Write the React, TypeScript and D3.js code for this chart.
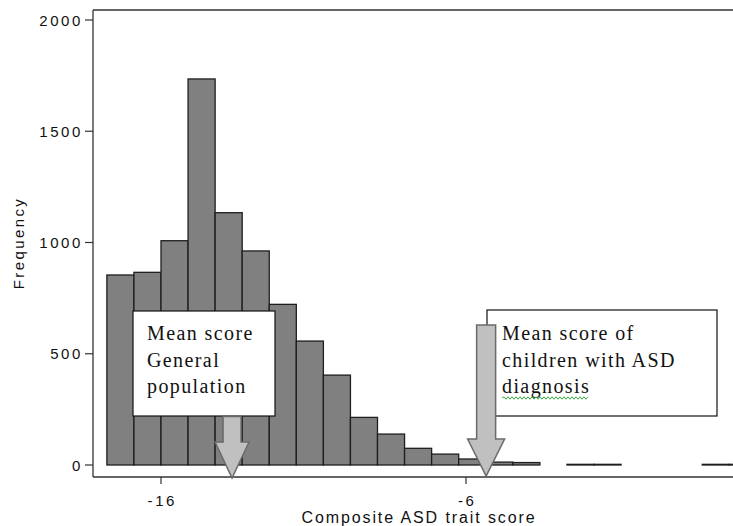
import React from "react";
import * as d3 from "d3";

// ---- data ----
const binStart = -17.7746;
const binWidth = 0.8873;
const counts = [854, 866, 1008, 1735, 1134, 962, 722, 557, 404, 214, 139, 75, 49, 27, 13, 11, 0, 3, 3, 0, 0, 0, 3, 3];
const xTicks = [-16, -6];
const yTicks = [0, 500, 1000, 1500, 2000];
const generalMean = -13.67;
const asdMean = -5.34;
const box1Lines = ["Mean score", "General", "population"];
const box2Lines = ["Mean score of", "children with ASD", "diagnosis"];
const xTitle = "Composite ASD trait score";
const yTitle = "Frequency";

const W = 733;
const H = 526;

export default function App() {
  const x = d3.scaleLinear().domain([-16, -6]).range([161, 466]);
  const y = d3.scaleLinear().domain([0, 2000]).range([465, 20]);

  const bins = counts.map((c, i) => ({
    x0: binStart + i * binWidth,
    x1: binStart + (i + 1) * binWidth,
    c,
  }));

  const axisLeft = 93;
  const axisTop = 10;
  const axisBottom = 477;

  const arrow = (tipX: number, tipY: number, shaftTop: number, headTop: number, shaftHalf: number, headHalf: number) => {
    const p = d3.path();
    p.moveTo(tipX - shaftHalf, shaftTop);
    p.lineTo(tipX + shaftHalf, shaftTop);
    p.lineTo(tipX + shaftHalf, headTop);
    p.lineTo(tipX + headHalf, headTop);
    p.lineTo(tipX, tipY);
    p.lineTo(tipX - headHalf, headTop);
    p.lineTo(tipX - shaftHalf, headTop);
    p.closePath();
    return p.toString();
  };

  // spell-check squiggle
  const squiggle = d3.path();
  {
    const sx = 502, ex = 589, sy = 398;
    squiggle.moveTo(sx, sy);
    let k = 0;
    for (let xx = sx + 2; xx <= ex; xx += 2) {
      squiggle.lineTo(xx, sy + (k % 2 === 0 ? -1.2 : 1.2));
      k++;
    }
  }

  const serif = "'Liberation Serif', 'Times New Roman', serif";
  const sans = "'Liberation Sans', Arial, sans-serif";

  const ax1 = x(generalMean);
  const ax2 = x(asdMean);

  return (
    <svg width={W} height={H} style={{ position: "absolute", left: 0, top: 0, background: "#fff" }}>
      <rect x={0} y={0} width={W} height={H} fill="#fff" />
      {/* bars */}
      {bins.map((b, i) =>
        b.c > 0 ? (
          <rect
            key={i}
            x={x(b.x0)}
            y={y(b.c)}
            width={x(b.x1) - x(b.x0)}
            height={y(0) - y(b.c)}
            fill="#808080"
            stroke="#1e1e1e"
            strokeWidth={1.3}
          />
        ) : null
      )}

      {/* frame / axes */}
      <line x1={axisLeft} y1={axisTop} x2={W} y2={axisTop} stroke="#333" strokeWidth={1.3} />
      <line x1={axisLeft} y1={axisTop} x2={axisLeft} y2={axisBottom} stroke="#333" strokeWidth={1.3} />
      <line x1={axisLeft} y1={axisBottom} x2={W} y2={axisBottom} stroke="#333" strokeWidth={1.3} />

      {yTicks.map((t) => (
        <g key={t}>
          <line x1={axisLeft - 8} x2={axisLeft} y1={y(t)} y2={y(t)} stroke="#333" strokeWidth={1.2} />
          <text
            x={83}
            y={y(t) + 5.5}
            textAnchor="end"
            fontFamily={sans}
            fontSize={15}
            letterSpacing={2.6}
            fill="#111"
          >
            {t}
          </text>
        </g>
      ))}

      {xTicks.map((t) => (
        <g key={t}>
          <line x1={x(t)} x2={x(t)} y1={axisBottom} y2={axisBottom + 7} stroke="#333" strokeWidth={1.2} />
          <text
            x={x(t) + 1.3}
            y={505.5}
            textAnchor="middle"
            fontFamily={sans}
            fontSize={15}
            letterSpacing={2.6}
            fill="#111"
          >
            {t}
          </text>
        </g>
      ))}

      <text x={419} y={523} textAnchor="middle" fontFamily={sans} fontSize={16} letterSpacing={1.9} fill="#111">
        {xTitle}
      </text>
      <text
        transform={`translate(24,243) rotate(-90)`}
        textAnchor="middle"
        fontFamily={sans}
        fontSize={15}
        letterSpacing={2.4}
        fill="#111"
      >
        {yTitle}
      </text>

      {/* annotation box 1 */}
      <rect x={133} y={311} width={142} height={105} fill="#fff" stroke="#111" strokeWidth={1.2} />
      {box1Lines.map((l, i) => (
        <text key={i} x={147} y={340 + i * 26.5} fontFamily={serif} fontSize={20} letterSpacing={1.4} fill="#111">
          {l}
        </text>
      ))}
      <path d={arrow(ax1, 478, 416.5, 442, 9, 17)} fill="#c0c0c0" stroke="#6a6a6a" strokeWidth={1.5} />

      {/* annotation box 2 */}
      <rect x={487} y={310} width={230} height={106} fill="#fff" stroke="#111" strokeWidth={1.2} />
      {box2Lines.map((l, i) => (
        <text key={i} x={502} y={340 + i * 26.5} fontFamily={serif} fontSize={20} letterSpacing={1.4} fill="#111">
          {l}
        </text>
      ))}
      <path d={squiggle.toString()} fill="none" stroke="#3aa845" strokeWidth={1} />
      <path d={arrow(ax2, 476, 325, 439, 9.5, 18.5)} fill="#c0c0c0" stroke="#6a6a6a" strokeWidth={1.5} />
    </svg>
  );
}
